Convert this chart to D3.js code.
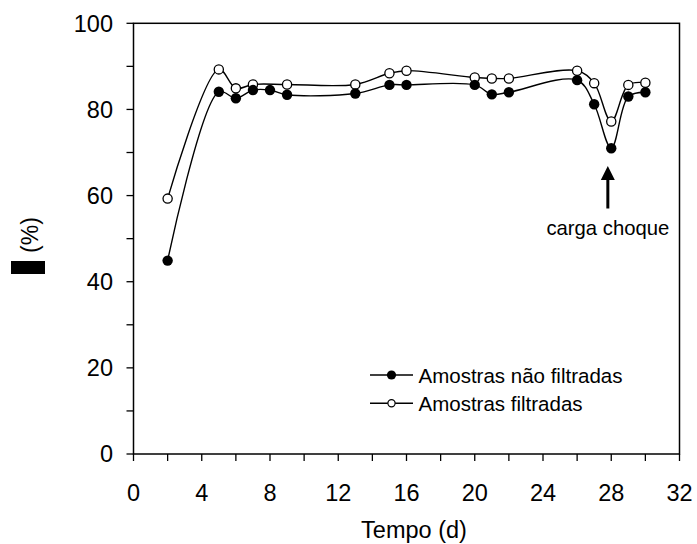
<!DOCTYPE html>
<html>
<head>
<meta charset="utf-8">
<script src="https://cdn.jsdelivr.net/npm/d3@7"></script>
<style>
  html, body { margin: 0; padding: 0; background: #fff; }
  svg { display: block; font-family: "Liberation Sans", Arial, sans-serif; }
</style>
</head>
<body>
<svg id="chart" width="697" height="544"></svg>
<script>
// Data
const daysNaoFiltradas = [2, 5, 6, 7, 8, 9, 13, 15, 16, 20, 21, 22, 26, 27, 28, 29, 30];
const valuesNaoFiltradas = [44.9, 84.1, 82.6, 84.5, 84.5, 83.4, 83.7, 85.7, 85.7, 85.7, 83.5, 84.0, 86.8, 81.2, 71.0, 83.0, 84.0];
const daysFiltradas = [2, 5, 6, 7, 9, 13, 15, 16, 20, 21, 22, 26, 27, 28, 29, 30];
const valuesFiltradas = [59.3, 89.3, 84.9, 85.8, 85.8, 85.8, 88.4, 89.0, 87.4, 87.2, 87.2, 89.0, 86.1, 77.2, 85.7, 86.2];
const xTickValues = [0, 2, 4, 6, 8, 10, 12, 14, 16, 18, 20, 22, 24, 26, 28, 30, 32];
const xTickLabels = [0, 4, 8, 12, 16, 20, 24, 28, 32];
const yTickValues = [0, 10, 20, 30, 40, 50, 60, 70, 80, 90, 100];
const yTickLabels = [0, 20, 40, 60, 80, 100];
const seriesNames = ["Amostras não filtradas", "Amostras filtradas"];
const xTitle = "Tempo (d)";
const yTitle = "(%)";
const annotationText = "carga choque";
const annotationDay = 27.8;

(function () {
const svg = d3.select("#chart");
const pLeft = 133.5, pRight = 679.5, pTop = 23.3, pBottom = 454;
const x = d3.scaleLinear().domain([0, 32]).range([pLeft, pRight]);
const y = d3.scaleLinear().domain([0, 100]).range([pBottom, pTop]);

// frame
svg.append("rect")
  .attr("x", pLeft).attr("y", pTop)
  .attr("width", pRight - pLeft).attr("height", pBottom - pTop)
  .attr("fill", "none").attr("stroke", "#000").attr("stroke-width", 1.5);

// x ticks
svg.append("g").selectAll("line").data(xTickValues).join("line")
  .attr("x1", d => x(d)).attr("x2", d => x(d))
  .attr("y1", pBottom).attr("y2", pBottom + 7)
  .attr("stroke", "#000").attr("stroke-width", 1.3);
svg.append("g").selectAll("text").data(xTickLabels).join("text")
  .attr("x", d => x(d)).attr("y", 500.5)
  .attr("text-anchor", "middle").attr("font-size", 23.5).attr("fill", "#000")
  .text(d => d);

// y ticks
svg.append("g").selectAll("line").data(yTickValues).join("line")
  .attr("x1", pLeft - 7).attr("x2", pLeft)
  .attr("y1", d => y(d)).attr("y2", d => y(d))
  .attr("stroke", "#000").attr("stroke-width", 1.3);
svg.append("g").selectAll("text").data(yTickLabels).join("text")
  .attr("x", 113).attr("y", d => y(d) + 8.3)
  .attr("text-anchor", "end").attr("font-size", 23.5).attr("fill", "#000")
  .text(d => d);

// axis titles
svg.append("text").attr("x", 414).attr("y", 538)
  .attr("text-anchor", "middle").attr("font-size", 23.5).attr("fill", "#000")
  .text(xTitle);
svg.append("text")
  .attr("transform", "translate(38,235) rotate(-90)")
  .attr("text-anchor", "middle").attr("font-size", 23).attr("fill", "#000")
  .text(yTitle);
svg.append("rect").attr("x", 11).attr("y", 261).attr("width", 34).attr("height", 13).attr("fill", "#000");

// lines
const line = d3.line().x(d => x(d[0])).y(d => y(d[1])).curve(d3.curveCatmullRom.alpha(0.5));
const dataA = daysNaoFiltradas.map((d, i) => [d, valuesNaoFiltradas[i]]);
const dataB = daysFiltradas.map((d, i) => [d, valuesFiltradas[i]]);

svg.append("path").datum(dataA).attr("d", line)
  .attr("fill", "none").attr("stroke", "#000").attr("stroke-width", 1.4);
svg.append("path").datum(dataB).attr("d", line)
  .attr("fill", "none").attr("stroke", "#000").attr("stroke-width", 1.4);

svg.append("g").selectAll("circle").data(dataB).join("circle")
  .attr("cx", d => x(d[0])).attr("cy", d => y(d[1])).attr("r", 4.6)
  .attr("fill", "#fff").attr("stroke", "#000").attr("stroke-width", 1.3);
svg.append("g").selectAll("circle").data(dataA).join("circle")
  .attr("cx", d => x(d[0])).attr("cy", d => y(d[1])).attr("r", 5.2)
  .attr("fill", "#000");

// annotation arrow
const ax = x(annotationDay);
svg.append("line").attr("x1", ax).attr("x2", ax).attr("y1", 208.5).attr("y2", 178)
  .attr("stroke", "#000").attr("stroke-width", 3);
svg.append("path")
  .attr("d", `M${ax - 7},${180} L${ax},${166} L${ax + 7},${180} Z`)
  .attr("fill", "#000");
svg.append("text").attr("x", ax).attr("y", 235)
  .attr("text-anchor", "middle").attr("font-size", 20.3).attr("fill", "#000")
  .text(annotationText);

// legend
const legend = svg.append("g");
const rows = [375, 403.3];
seriesNames.forEach((name, i) => {
  const g = legend.append("g");
  g.append("line").attr("x1", 370).attr("x2", 413).attr("y1", rows[i]).attr("y2", rows[i])
    .attr("stroke", "#000").attr("stroke-width", 1.4);
  if (i === 0) {
    g.append("circle").attr("cx", 391.5).attr("cy", rows[i]).attr("r", 4.6).attr("fill", "#000");
  } else {
    g.append("circle").attr("cx", 391.5).attr("cy", rows[i]).attr("r", 3.6)
      .attr("fill", "#fff").attr("stroke", "#000").attr("stroke-width", 1.2);
  }
  g.append("text").attr("x", 418.5).attr("y", rows[i] + 7.5)
    .attr("font-size", 20.5).attr("fill", "#000").text(name);
});
})();
</script>
</body>
</html>
